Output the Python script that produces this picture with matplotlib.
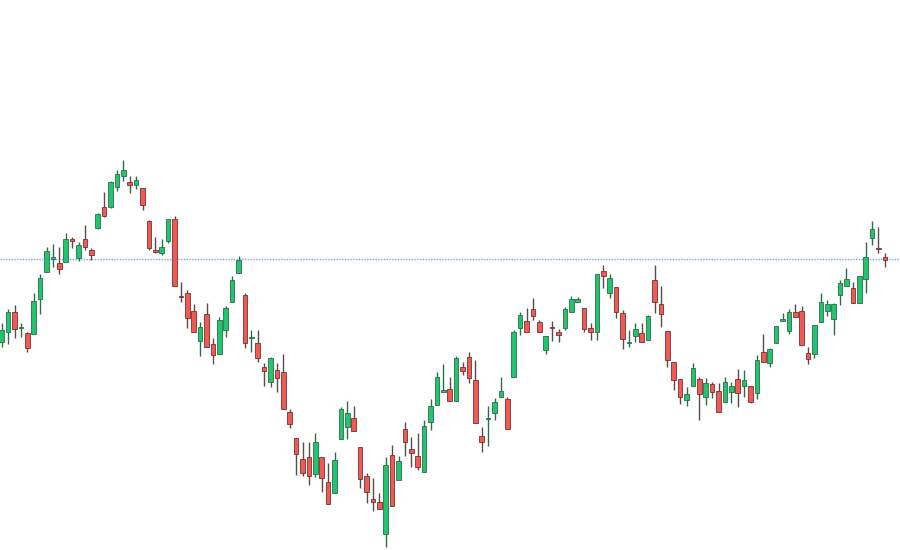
import matplotlib
matplotlib.use("Agg")
import matplotlib.pyplot as plt
import numpy as np

opens = [258, 268, 288, 272, 267, 266, 301, 328, 341, 337, 338, 361, 342, 361, 350, 372, 393, 393, 413, 424,
         418, 415, 412, 379, 350, 347, 359, 381, 304, 307, 289, 259, 286, 256, 246, 270, 298, 327, 305, 262,
         257, 233, 218, 230, 228, 188, 162, 141, 143, 126, 143, 118, 107, 161, 173, 182, 153, 124, 101, 98,
         66, 145, 120, 171, 151, 144, 128, 178, 195, 208, 211, 199, 233, 243, 220, 164, 181, 187, 203, 201,
         223, 272, 279, 291, 278, 250, 273, 268, 272, 288, 298, 292, 272, 268, 329, 307, 313, 287, 257, 264,
         267, 260, 320, 296, 269, 238, 221, 200, 214, 221, 203, 216, 209, 198, 208, 221, 214, 214, 207, 248,
         237, 257, 279, 269, 288, 289, 247, 246, 278, 289, 281, 305, 314, 312, 297, 321, 362, 352, 343]
highs = [277, 291, 295, 277, 268, 307, 326, 353, 356, 353, 367, 363, 358, 375, 352, 387, 408, 419, 430, 440,
         424, 424, 412, 380, 363, 361, 381, 384, 318, 310, 296, 278, 297, 262, 283, 294, 324, 344, 307, 270,
         270, 237, 243, 237, 246, 191, 162, 158, 158, 167, 143, 137, 148, 193, 199, 194, 153, 127, 122, 107,
         143, 155, 144, 178, 163, 167, 180, 201, 228, 236, 223, 244, 238, 248, 240, 173, 194, 202, 223, 203,
         270, 288, 292, 302, 280, 264, 279, 271, 293, 304, 303, 292, 277, 326, 335, 326, 313, 290, 270, 277,
         277, 285, 335, 314, 269, 238, 221, 213, 237, 223, 222, 218, 217, 223, 218, 231, 230, 214, 245, 266,
         252, 274, 287, 291, 296, 294, 253, 275, 307, 300, 297, 320, 332, 318, 324, 358, 379, 373, 347]
lows = [253, 256, 262, 263, 248, 266, 286, 328, 333, 326, 338, 352, 339, 350, 340, 371, 383, 392, 409, 419,
        407, 411, 390, 350, 347, 345, 357, 314, 298, 272, 268, 244, 253, 236, 246, 263, 298, 327, 252, 248,
        238, 214, 213, 208, 191, 172, 125, 124, 115, 123, 108, 96, 107, 161, 161, 169, 112, 97, 89, 91,
        53, 94, 120, 144, 133, 130, 128, 170, 195, 208, 199, 199, 225, 217, 177, 148, 154, 180, 203, 171,
        223, 265, 268, 280, 268, 246, 259, 258, 270, 288, 298, 268, 260, 260, 312, 302, 282, 251, 253, 258,
        258, 260, 287, 273, 233, 210, 196, 194, 214, 180, 195, 202, 188, 198, 197, 193, 203, 197, 201, 238,
        233, 257, 279, 266, 283, 255, 236, 242, 278, 284, 265, 295, 314, 297, 297, 307, 355, 347, 333]
closes = [270, 288, 271, 273, 252, 299, 322, 349, 343, 331, 361, 359, 355, 353, 345, 386, 384, 418, 426, 430,
          415, 420, 395, 352, 348, 353, 381, 314, 303, 282, 268, 273, 253, 245, 280, 292, 320, 340, 257, 263,
          242, 229, 242, 222, 191, 176, 146, 127, 124, 158, 122, 96, 140, 191, 187, 169, 121, 108, 98, 91,
          135, 94, 139, 158, 147, 133, 174, 194, 223, 210, 199, 242, 229, 222, 177, 158, 182, 198, 209, 171,
          268, 285, 268, 284, 268, 264, 272, 265, 291, 301, 301, 271, 268, 326, 324, 322, 288, 261, 258, 271,
          258, 284, 298, 286, 240, 220, 203, 206, 232, 206, 217, 208, 188, 218, 214, 207, 220, 198, 240, 238,
          251, 274, 281, 288, 283, 255, 241, 275, 298, 296, 296, 317, 321, 297, 324, 343, 371, 351, 340]
reference_level = 341

n = len(opens)
x = np.arange(n)
o = np.array(opens); h = np.array(highs); l = np.array(lows); c = np.array(closes)
up = c >= o

fig = plt.figure(figsize=(9, 5.5), dpi=100)
ax = fig.add_axes([0, 0, 1, 1])
ax.set_xlim(-0.27, 140.36)
ax.set_ylim(50, 600)
ax.axis("off")

green = "#22c46e"
red = "#ef5a55"
wick_up = "#2f6b4a"
wick_dn = "#5a4a48"

ax.axhline(reference_level, color="#4f7dfa", lw=1.0, ls=(0, (1.0, 1.0)), alpha=0.75, zorder=1)

for i in range(n):
    ax.vlines(x[i], l[i], h[i], color=wick_up if up[i] else wick_dn, lw=1.0, zorder=2)

bottoms = np.minimum(o, c)
heights = np.maximum(np.abs(c - o), 1.0)
ax.bar(x, heights, bottom=bottoms, width=0.74,
       color=[green if u else red for u in up],
       edgecolor=["#2a6e47" if u else "#7a3030" for u in up],
       linewidth=0.6, zorder=3)

fig.savefig("out.png", dpi=100, facecolor="white")
